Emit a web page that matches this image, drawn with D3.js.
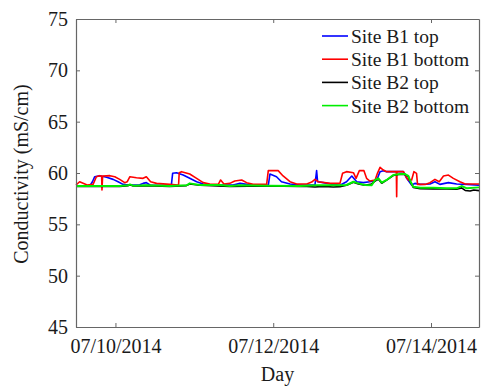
<!DOCTYPE html>
<html>
<head>
<meta charset="utf-8">
<script src="https://cdn.jsdelivr.net/npm/d3@7"></script>
<style>
  body { margin: 0; background: #fff; }
  text { font-family: "Liberation Serif", "Times New Roman", serif; fill: #1a1a1a; }
</style>
</head>
<body>
<div id="chart"></div>
<script>
// Datos: [horas desde 07/10/2014 00:00, conductividad mS/cm]
const b1Top = [
  [-12, 58.73], [-7.8, 58.73], [-7.0, 59.15], [-6.3, 59.64], [-4.8, 59.74], [-2.7, 59.58],
  [-0.7, 59.38], [0.8, 59.15], [2.3, 58.89], [3.9, 58.83], [7.4, 58.86], [8.4, 58.99],
  [9.4, 59.06], [10.5, 58.83], [17.0, 58.80], [17.4, 59.97], [18.6, 60.03], [20.6, 59.80],
  [22.6, 59.48], [24.7, 59.15], [26.7, 58.93], [29.7, 58.83], [35.8, 58.83], [37.9, 58.99],
  [39.9, 58.89], [41.9, 58.80], [46.5, 58.80], [47.0, 59.90], [49.0, 59.64], [50.5, 59.15],
  [53.1, 58.93], [56.1, 58.83], [60.7, 58.83], [61.2, 60.23], [61.5, 59.15], [63.2, 59.06],
  [66.3, 58.89], [68.3, 58.80], [70.3, 59.15], [71.9, 59.71], [73.4, 59.15], [75.4, 59.06],
  [77.4, 59.15], [79.5, 59.32], [80.5, 60.13], [81.5, 60.23], [82.5, 60.13], [87.6, 60.13],
  [88.6, 59.48], [90.1, 58.83], [91.1, 58.99], [92.7, 58.89], [95.7, 58.93], [97.2, 59.15],
  [98.7, 58.89], [101.3, 59.06], [103.8, 58.93], [106.9, 58.89], [110.6, 58.80]
];
const b1Bottom = [
  [-12, 58.83], [-10.9, 59.15], [-8.6, 58.83], [-6.8, 58.89], [-5.8, 59.64], [-4.8, 59.74],
  [-4.2, 59.71], [-4.1, 58.34], [-3.9, 59.71], [-1.7, 59.74], [-0.2, 59.64], [1.3, 59.38],
  [2.8, 59.06], [3.6, 59.15], [4.4, 59.64], [6.4, 59.54], [8.4, 59.48], [9.4, 59.64],
  [10.7, 59.15], [12.5, 58.99], [16.5, 58.89], [19.1, 58.83], [19.2, 58.83], [19.4, 60.03],
  [20.1, 60.13], [22.6, 59.90], [24.7, 59.48], [26.7, 59.06], [28.7, 58.93], [31.3, 58.89],
  [32.0, 59.32], [33.0, 58.93], [34.8, 58.99], [36.3, 59.22], [38.4, 59.32], [39.9, 59.06],
  [41.9, 58.89], [46.0, 58.89], [46.5, 60.23], [49.5, 60.23], [51.0, 59.71], [53.1, 59.15],
  [55.1, 58.93], [58.2, 58.93], [59.7, 59.12], [60.7, 59.38], [61.7, 59.15], [65.3, 58.99],
  [68.3, 58.99], [69.1, 59.97], [70.3, 60.13], [72.4, 60.03], [73.2, 59.48], [74.2, 60.23],
  [75.6, 60.23], [76.4, 59.48], [77.4, 59.22], [79.0, 59.32], [79.7, 59.97], [80.5, 60.55],
  [81.5, 60.29], [82.5, 60.13], [85.45, 60.13], [85.55, 57.69], [85.65, 60.13], [87.6, 60.13],
  [88.4, 59.64], [89.1, 59.32], [90.1, 59.32], [90.8, 60.13], [91.6, 59.97], [91.9, 58.89],
  [94.2, 58.89], [95.7, 59.06], [97.2, 59.38], [98.5, 59.15], [99.8, 59.71], [101.3, 59.80],
  [102.8, 59.48], [104.8, 59.15], [106.4, 58.93], [110.6, 58.93]
];
const b2Top = [
  [-12, 58.70], [1.3, 58.70], [3.9, 58.77], [4.4, 58.86], [5.4, 58.74], [9.4, 58.77],
  [16.5, 58.70], [21.6, 58.77], [22.6, 58.93], [25.7, 58.80], [34.8, 58.70], [46.0, 58.74],
  [56.1, 58.70], [58.2, 58.70], [60.7, 58.64], [63.2, 58.70], [66.3, 58.64], [68.3, 58.67],
  [70.3, 58.80], [72.4, 59.10], [73.9, 58.93], [75.9, 58.80], [77.9, 58.93], [79.0, 59.22],
  [80.0, 59.40], [81.0, 59.00], [82.5, 59.30], [84.5, 59.75], [86.6, 59.87], [88.1, 59.87],
  [89.1, 59.65], [89.8, 59.10], [90.6, 58.60], [92.7, 58.48], [96.7, 58.45], [100.8, 58.45],
  [103.8, 58.41], [105.3, 58.55], [106.4, 58.30], [107.9, 58.25], [109.0, 58.35], [110.6, 58.28]
];
const b2Bottom = [
  [-12, 58.73], [1.3, 58.73], [3.9, 58.80], [4.4, 58.89], [5.4, 58.77], [9.4, 58.80],
  [16.5, 58.73], [21.6, 58.80], [22.1, 58.89], [22.6, 58.99], [25.7, 58.83], [31.8, 58.83],
  [34.8, 58.73], [37.9, 58.80], [46.0, 58.77], [56.1, 58.73], [61.2, 58.80], [68.3, 58.80],
  [70.3, 58.83], [72.4, 59.15], [73.9, 58.99], [75.9, 58.83], [77.9, 58.80], [79.0, 59.32],
  [80.0, 59.48], [81.0, 59.06], [82.5, 59.32], [84.5, 59.80], [86.6, 59.90], [88.1, 59.90],
  [89.1, 59.71], [89.8, 59.15], [90.6, 58.67], [92.7, 58.57], [96.7, 58.57], [100.8, 58.51],
  [103.8, 58.51], [105.3, 58.73], [106.9, 58.51], [110.6, 58.60]
];

const seriesNames = ["Site B1 top", "Site B1 bottom", "Site B2 top", "Site B2 bottom"];
const seriesColors = ["#0000ff", "#ff0000", "#000000", "#00ee00"];
const seriesData = [b1Top, b1Bottom, b2Top, b2Bottom];

const yTicks = [45, 50, 55, 60, 65, 70, 75];
const xTickDates = [new Date(2014, 6, 10), new Date(2014, 6, 12), new Date(2014, 6, 14)];

// Dimensiones
const width = 482;
const height = 386;
const margin = { top: 19, right: 3, bottom: 59, left: 76 };
const innerW = width - margin.left - margin.right;
const innerH = height - margin.top - margin.bottom;

const t0 = new Date(2014, 6, 10);
const toDate = h => new Date(t0.getTime() + h * 3600e3);

const svg = d3.select("#chart")
  .append("svg")
  .attr("width", width)
  .attr("height", height);

const g = svg.append("g")
  .attr("transform", `translate(${margin.left},${margin.top})`);

// Escalas
const xScale = d3.scaleTime()
  .domain([toDate(-12), toDate(110.6)])
  .range([0, innerW]);

const yScale = d3.scaleLinear()
  .domain([45, 75])
  .range([innerH, 0]);

// Lineas de datos
const line = d3.line()
  .x(d => xScale(toDate(d[0])))
  .y(d => yScale(d[1]));

seriesData.forEach((data, i) => {
  g.append("path")
    .datum(data)
    .attr("fill", "none")
    .attr("stroke", seriesColors[i])
    .attr("stroke-width", i === 3 ? 2 : 1.6)
    .attr("stroke-linejoin", "round")
    .attr("d", line);
});

// Ejes (ticks hacia dentro, caja completa)
const fmt = d3.timeFormat("%m/%d/%Y");

const xAxis = g.append("g")
  .attr("transform", `translate(0,${innerH})`)
  .call(d3.axisBottom(xScale).tickValues(xTickDates).tickFormat(fmt).tickSize(-4).tickPadding(12).tickSizeOuter(0));

const yAxis = g.append("g")
  .call(d3.axisLeft(yScale).tickValues(yTicks).tickSize(-4).tickPadding(8).tickSizeOuter(0));

const topAxis = g.append("g")
  .call(d3.axisTop(xScale).tickValues(xTickDates).tickFormat("").tickSize(-4).tickSizeOuter(0));

const rightAxis = g.append("g")
  .attr("transform", `translate(${innerW},0)`)
  .call(d3.axisRight(yScale).tickValues(yTicks).tickFormat("").tickSize(-4).tickSizeOuter(0));

[xAxis, yAxis, topAxis, rightAxis].forEach(a => {
  a.selectAll("path.domain").attr("stroke", "#666").attr("stroke-width", 1.2);
  a.selectAll(".tick line").attr("stroke", "#666");
  a.selectAll("text").attr("font-size", 20).attr("font-family", null).style("fill", "#1a1a1a");
});

// Etiquetas de ejes
svg.append("text")
  .attr("x", margin.left + innerW / 2)
  .attr("y", 381)
  .attr("text-anchor", "middle")
  .attr("font-size", 20)
  .text("Day");

svg.append("text")
  .attr("transform", "rotate(-90)")
  .attr("x", -174)
  .attr("y", 28)
  .attr("text-anchor", "middle")
  .attr("font-size", 20)
  .text("Conductivity (mS/cm)");

// Leyenda
const legend = svg.append("g")
  .attr("transform", "translate(322,36)");

seriesNames.forEach((name, i) => {
  const row = legend.append("g").attr("transform", `translate(0,${i * 23.2})`);
  row.append("line")
    .attr("x1", 0).attr("x2", 26)
    .attr("y1", 0).attr("y2", 0)
    .attr("stroke", seriesColors[i])
    .attr("stroke-width", 1.6);
  row.append("text")
    .attr("x", 29)
    .attr("y", 7)
    .attr("font-size", 19.5)
    .text(name);
});
</script>
</body>
</html>
